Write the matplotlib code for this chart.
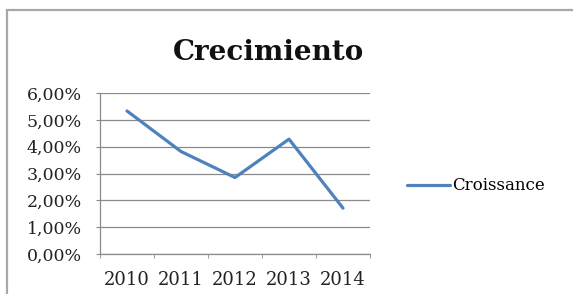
import matplotlib
matplotlib.use("Agg")
import matplotlib.pyplot as plt
from matplotlib.patches import Rectangle
from matplotlib.ticker import FuncFormatter, FixedLocator

years = ["2010", "2011", "2012", "2013", "2014"]
croissance = [5.33, 3.82, 2.85, 4.28, 1.71]
y_ticks = [0, 1, 2, 3, 4, 5, 6]
title = "Crecimiento"
series_name = "Croissance"

plt.rcParams['font.family'] = ['DejaVu Serif']

fig = plt.figure(figsize=(5.73, 2.94), dpi=100)
fig.patch.set_facecolor("white")

# outer chart border
fig.add_artist(Rectangle((7/573, -0.1), 1.2, 1 - 10/294 + 0.1, transform=fig.transFigure,
                         fill=False, edgecolor="#a8a8a8", lw=1.6))

ax = fig.add_axes([100/573, 40/294, 270/573, 161/294])
x = list(range(len(years)))
line, = ax.plot(x, croissance, color="#4F81BD", lw=2.3, label=series_name,
                solid_capstyle="round", solid_joinstyle="round")

ax.set_xlim(-0.5, len(years) - 0.5)
ax.set_ylim(0, 6)
ax.set_yticks(y_ticks)
ax.yaxis.set_major_formatter(FuncFormatter(lambda v, p: f"{v:.2f}%".replace(".", ",")))
ax.set_xticks(x)
ax.set_xticklabels(years)
ax.xaxis.set_minor_locator(FixedLocator([i - 0.5 for i in range(len(years) + 1)]))

ax.grid(axis="y", color="#8a8a8a", lw=0.9)
ax.set_axisbelow(True)
for s in ["top", "right"]:
    ax.spines[s].set_visible(False)
for s in ["left", "bottom"]:
    ax.spines[s].set_color("#8a8a8a")
    ax.spines[s].set_linewidth(0.9)

ax.tick_params(axis="y", labelsize=12.5, length=3, color="#8a8a8a", pad=10, labelcolor="#222222")
ax.tick_params(axis="x", which="major", length=0, labelsize=13, pad=12, labelcolor="#222222")
ax.tick_params(axis="x", which="minor", length=3, color="#8a8a8a")

fig.text(268/573, 1 - 52/294, title, ha="center", va="center", fontsize=20,
         fontweight="bold", color="#111111")

fig.legend(handles=[line], labels=[series_name], loc="center left",
           bbox_to_anchor=(400/573, 1 - 186/294), frameon=False, fontsize=12,
           handlelength=2.6, handletextpad=0.1, borderaxespad=0)

fig.savefig("out.png", dpi=100, facecolor="white")
